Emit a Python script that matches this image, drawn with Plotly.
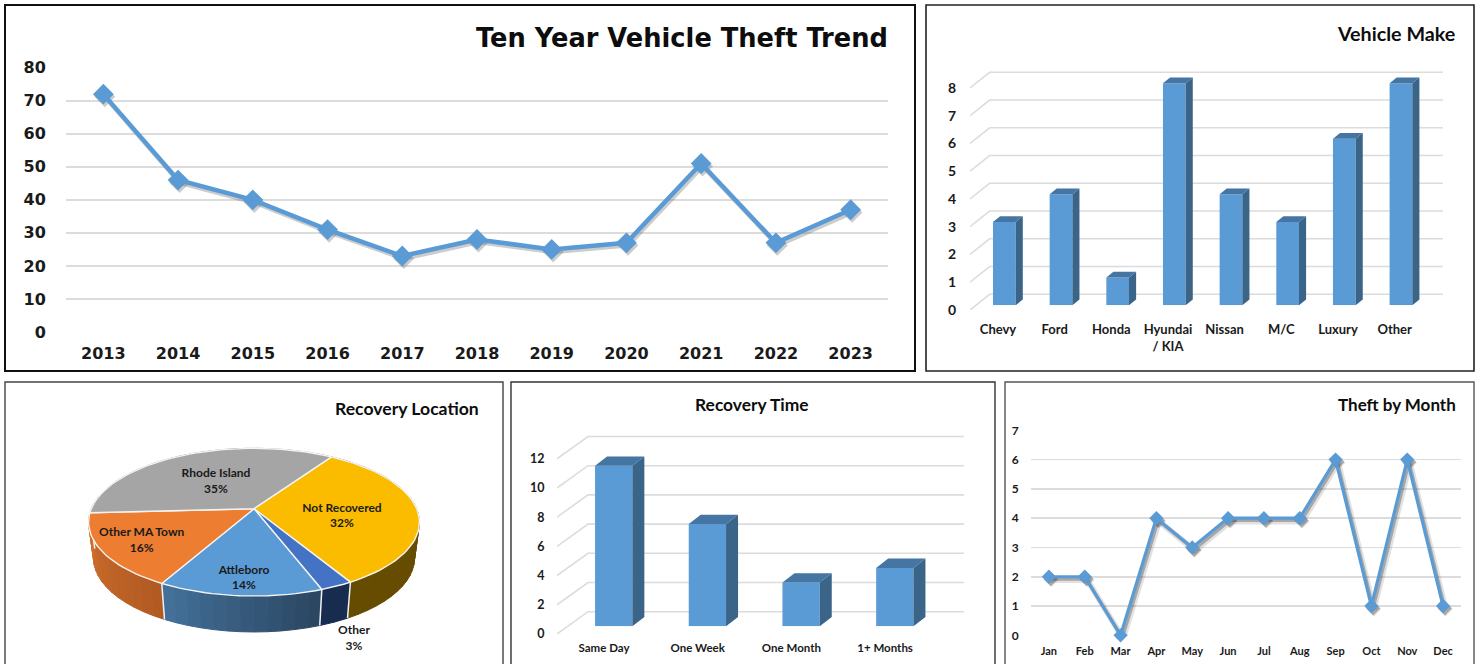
import math
import plotly.graph_objects as go

W, H = 1478, 664

# ---------- data ----------
YEARS = [2013, 2014, 2015, 2016, 2017, 2018, 2019, 2020, 2021, 2022, 2023]
THEFTS = [72, 46, 40, 31, 23, 28, 25, 27, 51, 27, 37]
TREND_TICKS = [0, 10, 20, 30, 40, 50, 60, 70, 80]

MAKES = ["Chevy", "Ford", "Honda", "Hyundai<br>/ KIA", "Nissan", "M/C", "Luxury", "Other"]
MAKE_COUNTS = [3, 4, 1, 8, 4, 3, 6, 8]
MAKE_TICKS = [0, 1, 2, 3, 4, 5, 6, 7, 8]

PIE_LABELS = ["Not Recovered", "Other", "Attleboro", "Other MA Town", "Rhode Island"]
PIE_COUNTS = [12, 1, 5, 6, 13]

TIME_LABELS = ["Same Day", "One Week", "One Month", "1+ Months"]
TIME_COUNTS = [11, 7, 3, 4]
TIME_TICKS = [0, 2, 4, 6, 8, 10, 12]

MONTHS = ["Jan", "Feb", "Mar", "Apr", "May", "Jun", "Jul", "Aug", "Sep", "Oct", "Nov", "Dec"]
MONTH_COUNTS = [2, 2, 0, 4, 3, 4, 4, 4, 6, 1, 6, 1]
MONTH_TICKS = [0, 1, 2, 3, 4, 5, 6, 7]

# ---------- style ----------
BLUE = "#5B9BD5"
SIDE = "#3A6488"
TOP = "#4575A2"
GRID = "#DCDCDC"
TXT = "#1a1a1a"
BODY = "Lato"
WIDE = "DejaVu Sans"
PIE_TOP = {"Not Recovered": "#FBBC00", "Other": "#4472C4", "Attleboro": "#5B9BD5",
           "Other MA Town": "#ED7D31", "Rhode Island": "#A5A5A5"}
PIE_WALL = {"Not Recovered": ("#654C00", "#654C00"), "Other": ("#182C50", "#182C50"),
            "Attleboro": ("#2A4560", "#44719A"), "Other MA Town": ("#B05A22", "#D2702E"),
            "Rhode Island": ("#7a7a7a", "#7a7a7a")}


def hx(a, b):
    return [a / W, b / W]


def vy(top, bottom):
    return [1 - bottom / H, 1 - top / H]


def tick_font(size, family=BODY):
    return dict(family=family + ", sans-serif", size=size, color=TXT)


fig = go.Figure()
layout = dict(
    template="none",
    width=W, height=H, margin=dict(l=0, r=0, t=0, b=0, pad=0), autosize=False,
    paper_bgcolor="white", plot_bgcolor="rgba(0,0,0,0)", showlegend=False,
    shapes=[], annotations=[], hovermode=False,
)


def hidden_axes(n, xdom, ydom, xrange, yrange):
    layout[f"xaxis{n}"] = dict(domain=xdom, range=xrange, visible=False, fixedrange=True,
                               anchor=f"y{n}", automargin=False)
    layout[f"yaxis{n}"] = dict(domain=ydom, range=yrange, visible=False, fixedrange=True,
                               anchor=f"x{n}", automargin=False)


def scat(n, **kw):
    kw.setdefault("hoverinfo", "skip")
    fig.add_trace(go.Scatter(xaxis=f"x{n}", yaxis=f"y{n}", **kw))


def frame(x0, y0, x1, y1, color, width):
    layout["shapes"].append(dict(type="rect", xref="paper", yref="paper", x0=x0 / W, x1=x1 / W,
                                 y0=1 - y1 / H, y1=1 - y0 / H,
                                 line=dict(color=color, width=width), fillcolor="white",
                                 layer="below"))


def title(text, xpx, ypx, size, anchor="right", family=BODY):
    layout["annotations"].append(dict(
        text=f"<b>{text}</b>", xref="paper", yref="paper", x=xpx / W, y=1 - ypx / H,
        xanchor=anchor, yanchor="middle", showarrow=False, xshift=0,
        font=dict(family=family + ", sans-serif", size=size, color="#0d0d0d")))


def line_chart(n, xs, ys, ticktext, yticks, xpx, ypx, xtick_font, ytick_font, xlen, ylen,
               line_w, marker, shadow):
    """2-D line panel with real axes."""
    layout[f"xaxis{n}" if n > 1 else "xaxis"] = dict(
        domain=hx(*xpx), range=[xs[0] - 0.5, xs[-1] + 0.5], tickvals=xs, ticktext=ticktext,
        showgrid=False, zeroline=False, showline=False, ticks="outside", ticklen=xlen,
        tickcolor="rgba(0,0,0,0)", tickfont=xtick_font, fixedrange=True, anchor=f"y{n}",
        automargin=False, tickangle=0)
    layout[f"yaxis{n}" if n > 1 else "yaxis"] = dict(
        domain=vy(*ypx), range=[yticks[0], yticks[-1]], tickvals=yticks, showgrid=True,
        gridcolor=GRID, gridwidth=1.6, zeroline=False, showline=False, ticks="outside",
        ticklen=ylen, tickcolor="rgba(0,0,0,0)", tickfont=ytick_font, fixedrange=True,
        anchor=f"x{n}", automargin=False)
    for off_x, off_y, color, w in shadow:
        scat(n, x=[x + off_x for x in xs], y=[y + off_y for y in ys], mode="lines+markers",
             line=dict(color=color, width=w), marker=dict(symbol="diamond", size=marker, color=color),
             cliponaxis=False)
    scat(n, x=xs, y=ys, mode="lines+markers", line=dict(color=BLUE, width=line_w),
         marker=dict(symbol="diamond", size=marker, color=BLUE), cliponaxis=False)


def bars3d(nf, nb, labels, values, yticks, g):
    """3-D looking column panel: nf = axis/wall subplot, nb = column subplot."""
    rng_x = [(g["left"] - g["lab0"]) / g["step"], (g["right"] - g["lab0"]) / g["step"]]
    yr = (g["tick0"] - g["top"]) / g["unit"]
    idx = list(range(len(labels)))
    layout[f"xaxis{nf}"] = dict(
        domain=hx(g["left"], g["right"]), range=rng_x, tickvals=idx, ticktext=labels,
        showgrid=False, zeroline=False, showline=False, ticks="outside", ticklen=g["xlen"],
        tickcolor="rgba(0,0,0,0)", tickfont=tick_font(g["xfont"]), fixedrange=True,
        anchor=f"y{nf}", automargin=False, tickangle=0)
    layout[f"yaxis{nf}"] = dict(
        domain=vy(g["top"], g["tick0"]), range=[0, yr], tickvals=yticks, showgrid=False,
        zeroline=False, showline=False, ticks="outside", ticklen=g["ylen"],
        tickcolor="rgba(0,0,0,0)", tickfont=tick_font(g["yfont"]), fixedrange=True,
        anchor=f"x{nf}", automargin=False)
    wdx = g["wall_dx"] / g["step"]
    wdy = g["wall_dy"] / g["unit"]
    gx, gy = [], []
    for v in yticks:
        gx += [rng_x[0], rng_x[0] + wdx, rng_x[1], None]
        gy += [v, v + wdy, v + wdy, None]
    scat(nf, x=gx, y=gy, mode="lines", line=dict(color=GRID, width=1.6), cliponaxis=False)

    # columns
    bw = g["bar_w"] / g["step"]
    ddx = g["dep_x"] / g["step"]
    ddy = g["dep_y"] / g["unit"]
    xr = [-0.5, len(labels) - 0.5]
    d0 = g["bar0"] - g["step"] / 2
    d1 = d0 + g["step"] * len(labels)
    hidden_axes(nb, hx(d0, d1), vy(g["top"], g["base"]), xr, [0, (g["base"] - g["top"]) / g["unit"]])
    sx, sy, tx, ty = [], [], [], []
    for i, v in zip(idx, values):
        r = i + bw / 2
        l = i - bw / 2
        sx += [r, r, r + ddx, r + ddx, r, None]
        sy += [0, v, v + ddy, ddy, 0, None]
        tx += [l, r, r + ddx, l + ddx, l, None]
        ty += [v, v, v + ddy, v + ddy, v, None]
    scat(nb, x=sx, y=sy, mode="lines", fill="toself", fillcolor=SIDE, line=dict(width=0, color=SIDE))
    scat(nb, x=tx, y=ty, mode="lines", fill="toself", fillcolor=TOP, line=dict(width=0, color=TOP))
    fig.add_trace(go.Bar(x=idx, y=values, width=bw, marker=dict(color=BLUE, line=dict(width=0)),
                         xaxis=f"x{nb}", yaxis=f"y{nb}", hoverinfo="skip"))


# ---------- frames ----------
frame(5, 5, 915, 371, "#111111", 2)
frame(926, 5, 1474, 371, "#222222", 1.6)
frame(5, 382, 503, 680, "#444444", 1.4)
frame(511, 382, 995, 680, "#333333", 1.4)
frame(1005, 382, 1474, 680, "#555555", 1.4)

# ---------- panel 1: trend ----------
line_chart(1, YEARS, THEFTS, [str(y) for y in YEARS], TREND_TICKS, (66, 888), (67.7, 332),
           tick_font(16, WIDE) | dict(weight="bold"), tick_font(16, WIDE) | dict(weight="bold"),
           7, 16, 4.5, 16, [(0.02, -0.8, "rgba(110,110,110,0.35)", 4.5)])
title("Ten Year Vehicle Theft Trend", 890, 38, 25.7, family=WIDE)

# ---------- panel 2: vehicle make ----------
bars3d(2, 3, MAKES, MAKE_COUNTS, MAKE_TICKS, dict(
    left=970, right=1443, lab0=998, step=56.66, tick0=310, top=60, unit=27.75,
    wall_dx=19.6, wall_dy=15.7, bar0=1004.35, bar_w=22.7, dep_x=7.1, dep_y=5.7, base=305.3,
    xlen=7, ylen=10, xfont=13, yfont=14))
title("Vehicle Make", 1456.5, 33.5, 19.7)

# ---------- panel 3: 3-D pie ----------
PCX, PCY, PA, PB, PK, DEPTH, SHRINK, START = 254.0, 508.7, 162.7, 71.4, 0.182, 36.0, 0.97, 33.3


def top_pt(phi):
    t = math.radians(phi)
    u, v = math.sin(t), -math.cos(t)
    w = 1 - PK * v
    return PCX + PA * u / w, PCY + PB * v / w


def low_pt(phi):
    x, y = top_pt(phi)
    return PCX + SHRINK * (x - PCX), y + DEPTH


def mix(c1, c2, f):
    a = [int(c1[i:i + 2], 16) for i in (1, 3, 5)]
    b = [int(c2[i:i + 2], 16) for i in (1, 3, 5)]
    return "#%02x%02x%02x" % tuple(round(p + (q - p) * f) for p, q in zip(a, b))


hidden_axes(4, hx(0, 503), vy(382, 664), [0, 503], [664, 382])
total = sum(PIE_COUNTS)
spans = []
acc = START
for name, c in zip(PIE_LABELS, PIE_COUNTS):
    spans.append((name, acc, acc + 360 * c / total))
    acc += 360 * c / total
# side wall, back slices first
for name, a, b in sorted(spans, key=lambda s: -abs((s[1] + s[2]) / 2 % 360 - 180)):
    n = max(1, int((b - a) / 4))
    for i in range(n):
        p0 = a + (b - a) * i / n
        p1 = a + (b - a) * (i + 1) / n
        pts_t = [top_pt(p0), top_pt(p1)]
        pts_l = [low_pt(p1), low_pt(p0)]
        poly = pts_t + pts_l + [pts_t[0]]
        col = mix(PIE_WALL[name][0], PIE_WALL[name][1], (i + 0.5) / n)
        scat(4, x=[q[0] for q in poly], y=[q[1] for q in poly], mode="lines", fill="toself",
             fillcolor=col, line=dict(color=col, width=1))
for name, a, b in spans:
    if 90 < b % 360 < 270:
        x0, y0 = top_pt(b)
        x1, y1 = low_pt(b)
        scat(4, x=[x0, x1], y=[y0, y1], mode="lines", line=dict(color="#f2f2f2", width=1.5))
# top faces
for name, a, b in spans:
    n = max(2, int((b - a) / 2))
    rim = [top_pt(a + (b - a) * i / n) for i in range(n + 1)]
    poly = [(PCX, PCY)] + rim + [(PCX, PCY)]
    scat(4, x=[q[0] for q in poly], y=[q[1] for q in poly], mode="lines", fill="toself",
         fillcolor=PIE_TOP[name], line=dict(color="#f4f4f4", width=1.4))
PIE_TEXT_POS = {"Rhode Island": (216, 482), "Not Recovered": (342, 516.5),
                "Other MA Town": (141.7, 541), "Attleboro": (244, 578.5), "Other": (354, 639)}
for name, c in zip(PIE_LABELS, PIE_COUNTS):
    px, py = PIE_TEXT_POS[name]
    scat(4, x=[px], y=[py], mode="text", text=[f"<b>{name}<br>{round(100 * c / total)}%</b>"],
         textposition="middle center", textfont=dict(family=BODY + ", sans-serif", size=12, color=TXT))
title("Recovery Location", 480.5, 408.7, 17.6)

# ---------- panel 4: recovery time ----------
bars3d(5, 6, TIME_LABELS, TIME_COUNTS, TIME_TICKS, dict(
    left=557, right=964, lab0=604, step=93.7, tick0=634, top=420, unit=14.6,
    wall_dx=31, wall_dy=22.3, bar0=613.7, bar_w=37.3, dep_x=12, dep_y=9.3, base=626.3,
    xlen=3, ylen=9, xfont=11.5, yfont=12.5))
title("Recovery Time", 751.7, 404, 17.4, anchor="center")

# ---------- panel 5: theft by month ----------
line_chart(7, list(range(12)), MONTH_COUNTS, MONTHS, MONTH_TICKS, (1031, 1461), (430.3, 635.3),
           tick_font(11), tick_font(12), 5, 9, 3.2, 11,
           [(0.07, -0.11, "rgba(90,90,90,0.18)", 6), (0.05, -0.08, "rgba(60,60,60,0.35)", 3.2)])
title("Theft by Month", 1458, 404, 17)

# Bold tick labels for Lato panels
for k, v in list(layout.items()):
    if k.startswith(("xaxis", "yaxis")) and "tickfont" in v:
        v["tickfont"]["weight"] = "bold"

fig.update_layout(**layout)
fig.write_html("out.html", config=dict(displayModeBar=False, staticPlot=True),
               post_script="document.body.style.margin='0';document.body.style.overflow='hidden';")
